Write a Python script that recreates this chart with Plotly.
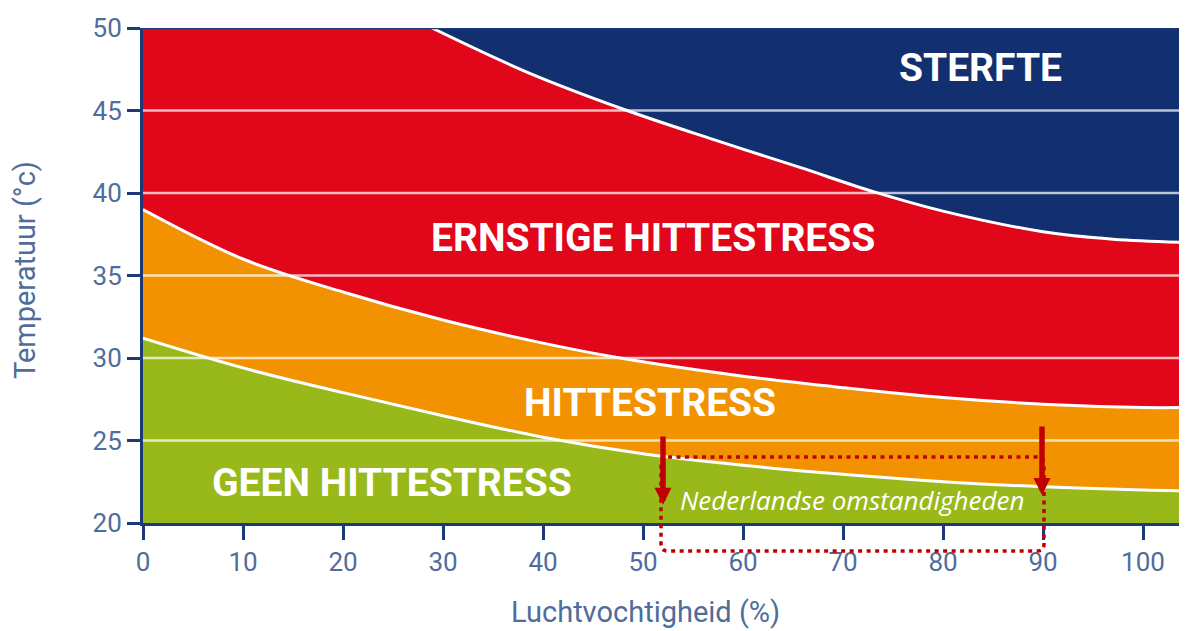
import plotly.graph_objects as go

# ---- data ----
hum_lower = [0, 10, 20, 30, 40, 50, 60, 70, 80, 90, 100, 104.4]
temp_lower = [31.2, 29.4, 27.9, 26.5, 25.2, 24.2, 23.5, 22.95, 22.5, 22.2, 22.0, 21.95]

hum_middle = [0, 10, 20, 30, 40, 47.7, 60, 70, 80, 90, 100, 104.4]
temp_middle = [39.0, 36.0, 34.0, 32.3, 30.9, 30.0, 28.9, 28.2, 27.6, 27.2, 27.0, 27.0]

hum_upper = [28.9, 38.5, 48.4, 57, 65.7, 73.2, 80, 90, 97, 104.4]
temp_upper = [50, 47.3, 45.0, 43.25, 41.55, 40.05, 38.9, 37.65, 37.2, 37.0]

zone_labels = ["STERFTE", "ERNSTIGE HITTESTRESS", "HITTESTRESS", "GEEN HITTESTRESS"]
zone_x = [83.7, 51.0, 50.7, 24.9]
zone_y = [47.6, 37.3, 27.3, 22.4]

nl_range = [52.0, 89.9]   # Nederlandse omstandigheden (humidity %)
x_ticks = [0, 10, 20, 30, 40, 50, 60, 70, 80, 90, 100]
y_ticks = [20, 25, 30, 35, 40, 45, 50]
X_MAX = 104.4

NAVY = "#12306f"
RED = "#e10619"
ORANGE = "#f29200"
GREEN = "#99b81a"
AXIS = "#1c3a78"
TICKTXT = "#4f6d9c"
DARKRED = "#c00000"
TICKFONT = "Roboto"

fig = go.Figure()
# green zone
fig.add_trace(go.Scatter(x=hum_lower, y=temp_lower, mode="lines", fill="tozeroy",
                         fillcolor=GREEN, line=dict(color="white", width=3, shape="spline"),
                         hoverinfo="skip", showlegend=False))
# orange zone
fig.add_trace(go.Scatter(x=hum_middle, y=temp_middle, mode="lines", fill="tonexty",
                         fillcolor=ORANGE, line=dict(color="white", width=3, shape="spline"),
                         hoverinfo="skip", showlegend=False))
# top edge helper, then navy zone (red is background)
fig.add_trace(go.Scatter(x=[hum_upper[0], X_MAX], y=[y_ticks[-1], y_ticks[-1]], mode="lines",
                         line=dict(width=0, color="rgba(0,0,0,0)"),
                         hoverinfo="skip", showlegend=False))
fig.add_trace(go.Scatter(x=hum_upper, y=temp_upper, mode="lines", fill="tonexty",
                         fillcolor=NAVY, line=dict(color="white", width=3, shape="spline"),
                         hoverinfo="skip", showlegend=False))

shapes = []
for t in y_ticks[1:-1]:
    shapes.append(dict(type="line", xref="paper", yref="y", x0=0, x1=1, y0=t, y1=t,
                       line=dict(color="rgba(255,255,255,0.72)", width=2.5), layer="above"))
shapes.append(dict(type="line", xref="paper", yref="y", x0=0, x1=1, y0=50, y1=50,
                   line=dict(color=AXIS, width=2.5), layer="above"))

# dotted rounded box (x in data, y in paper)
xl, xr = nl_range[0] - 0.2, nl_range[1] + 0.2
yt, yb = 0.1333, -0.0566
rx, ry = 0.7, 0.0141
path = (f"M{xl+rx},{yt} L{xr-rx},{yt} Q{xr},{yt} {xr},{yt-ry} L{xr},{yb+ry} "
        f"Q{xr},{yb} {xr-rx},{yb} L{xl+rx},{yb} Q{xl},{yb} {xl},{yb+ry} "
        f"L{xl},{yt-ry} Q{xl},{yt} {xl+rx},{yt} Z")
shapes.append(dict(type="path", xref="x", yref="paper", path=path,
                   line=dict(color=DARKRED, width=3.5, dash="4px,4.5px"), layer="above"))

annotations = []
for lab, x, y in zip(zone_labels, zone_x, zone_y):
    annotations.append(dict(x=x, y=y, xref="x", yref="y", text=f"<b>{lab}</b>", showarrow=False,
                            font=dict(family="Roboto", size=39, color="white")))
annotations.append(dict(x=70.9, y=21.4, xref="x", yref="y", text="<i>Nederlandse omstandigheden</i>",
                        showarrow=False, font=dict(family="Open Sans", size=26, color="white")))
for hx, ytop, ytip in [(nl_range[0], 25.33, 21.1), (nl_range[1], 25.94, 21.7)]:
    annotations.append(dict(x=hx, y=ytip, ax=hx, ay=ytop, xref="x", yref="y", axref="x", ayref="y",
                            showarrow=True, arrowhead=2, arrowsize=0.62, arrowwidth=5.5,
                            arrowcolor=DARKRED, text=""))
# axis titles (page is offset 8px by body margin); plot area: x 143..1187, y 28..523
annotations.append(dict(x=(645 - 143) / 1044, y=(523 - 612) / 495, xref="paper", yref="paper",
                        xanchor="center", yanchor="middle",
                        text="Luchtvochtigheid (%)", showarrow=False,
                        font=dict(family="Roboto", size=29, color=TICKTXT)))
annotations.append(dict(x=(25 - 143) / 1044, y=(523 - 270) / 495, xref="paper", yref="paper",
                        xanchor="center", yanchor="middle", textangle=-90,
                        text="Temperatuur (°c)", showarrow=False,
                        font=dict(family="Roboto", size=29, color=TICKTXT)))

fig.update_layout(
    width=1179, height=623,
    margin=dict(l=135, r=0, t=20, b=108),
    plot_bgcolor=RED, paper_bgcolor="white",
    shapes=shapes, annotations=annotations,
    xaxis=dict(range=[0, X_MAX], tickvals=x_ticks, ticks="outside", ticklen=14, tickwidth=3,
               tickcolor=AXIS, showline=True, linecolor=AXIS, linewidth=3, showgrid=False,
               zeroline=False, tickfont=dict(family=TICKFONT, size=26, color=TICKTXT)),
    yaxis=dict(range=[20, 50], tickvals=y_ticks, ticks="outside", ticklen=13, tickwidth=3,
               tickcolor=AXIS, showline=True, linecolor=AXIS, linewidth=3, showgrid=False,
               zeroline=False, tickfont=dict(family=TICKFONT, size=26, color=TICKTXT)),
)

fig.write_html("out.html")
